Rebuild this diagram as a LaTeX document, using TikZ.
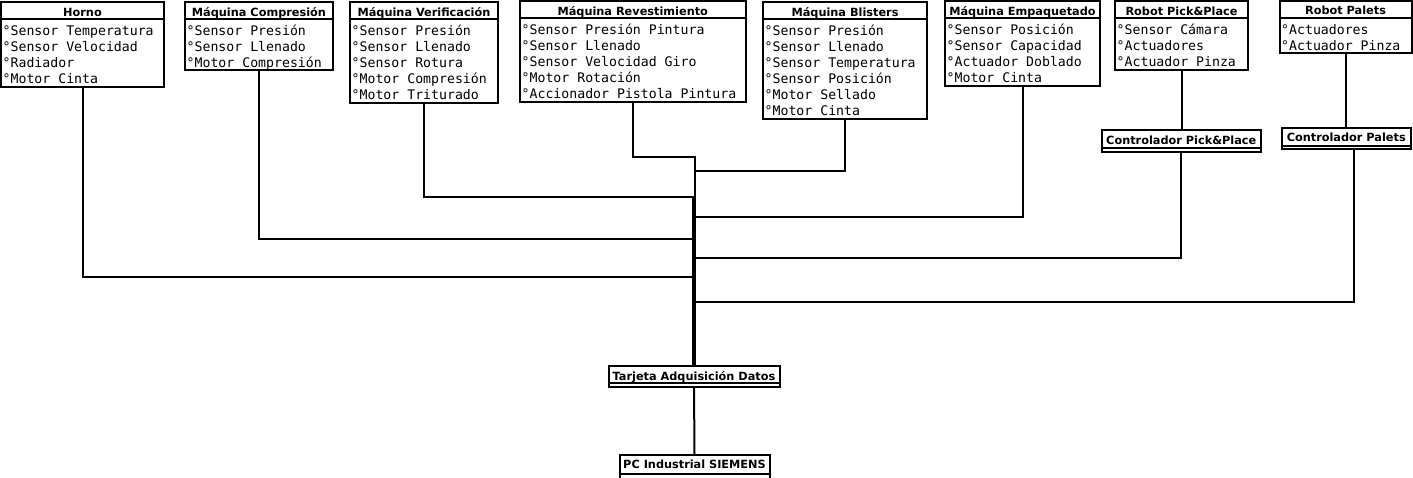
\documentclass[tikz,border=0pt]{standalone}
\usepackage{fontspec}
\newfontfamily\ttlfont{DejaVu Sans}
\newfontfamily\itmfont{DejaVu Sans Mono}
\tikzset{
  boxshape/.style={draw, line width=2pt, rectangle, inner sep=0pt, outer sep=0pt},
  boxline/.style={line width=2pt},
  conn/.style={line width=2pt},
  titletext/.style={font=\ttlfont\bfseries\fontsize{11.3}{13}\selectfont, inner sep=0pt, anchor=base},
  itemtext/.style={font=\itmfont\fontsize{13.2}{16}\selectfont, inner sep=0pt, anchor=base west},
}
% name, x1, y1, x2, y2, separator y, title, items
\newcommand\umlbox[8]{%
  \pgfmathsetmacro\bw{#4-#2}%
  \pgfmathsetmacro\bh{#5-#3}%
  \node[boxshape, minimum width=\bw pt, minimum height=\bh pt, anchor=north west] (#1) at (#2,#3) {};
  \draw[boxline] (#1.west |- 0,#6) -- (#1.east |- 0,#6);
  \node[titletext] (#1-t) at ({(#2+#4)/2},#6-3) {#7};
  \foreach \itm [count=\k] in {#8} {\node[itemtext] (#1-\k) at (#2+1.5,#6+16.5+16*\k-16) {°\itm};}
}
% name, x1, y1, x2, y2, inner line y, baseline y, title
\newcommand\ctrlbox[8]{%
  \pgfmathsetmacro\bw{#4-#2}%
  \pgfmathsetmacro\bh{#5-#3}%
  \node[boxshape, minimum width=\bw pt, minimum height=\bh pt, anchor=north west] (#1) at (#2,#3) {};
  \draw[boxline] (#1.west |- 0,#6) -- (#1.east |- 0,#6);
  \node[titletext] (#1-t) at ({(#2+#4)/2},#7) {#8};
}
\begin{document}
\begin{tikzpicture}[x=1pt, y=-1pt]
\useasboundingbox (0,0) rectangle (1413,477);
\clip (0,0) rectangle (1413,477);

\umlbox{horno}{1}{2}{164}{87}{19}{Horno}{Sensor Temperatura,Sensor Velocidad,Radiador,Motor Cinta}
\umlbox{compresion}{185}{2}{333}{70}{19}{Máquina Compresión}{Sensor Presión,Sensor Llenado,Motor Compresión}
\umlbox{verificacion}{350}{2}{498}{103}{19}{Máquina Verificación}{Sensor Presión,Sensor Llenado,Sensor Rotura,Motor Compresión,Motor Triturado}
\umlbox{revest}{520}{1}{745.5}{102}{18}{Máquina Revestimiento}{Sensor Presión Pintura,Sensor Llenado,Sensor Velocidad Giro,Motor Rotación,Accionador Pistola Pintura}
\umlbox{blisters}{763}{2}{927}{119}{19}{Máquina Blisters}{Sensor Presión,Sensor Llenado,Sensor Temperatura,Sensor Posición,Motor Sellado,Motor Cinta}
\umlbox{empaq}{945}{1}{1100}{86}{18}{Máquina Empaquetado}{Sensor Posición,Sensor Capacidad,Actuador Doblado,Motor Cinta}
\umlbox{rpp}{1115}{1}{1248}{69.5}{18}{Robot Pick\&Place}{Sensor Cámara,Actuadores,Actuador Pinza}
\umlbox{rpal}{1279.5}{1}{1411.5}{53}{17.5}{Robot Palets}{Actuadores,Actuador Pinza}

\ctrlbox{cpp}{1102}{130}{1260.5}{151.5}{148}{144}{Controlador Pick\&Place}
\ctrlbox{cpal}{1281.5}{127.5}{1411}{149}{145.5}{141}{Controlador Palets}
\ctrlbox{tarjeta}{608.5}{365.5}{779.5}{386.5}{383}{380}{Tarjeta Adquisición Datos}
\ctrlbox{pc}{619.5}{455}{769.5}{481}{473.5}{468.5}{PC Industrial SIEMENS}

% connectors to the acquisition card
\draw[conn] (horno.south) -- (horno.south |- 0,277) -| ([xshift=-1pt]tarjeta.north);
\draw[conn] (compresion.south) -- (compresion.south |- 0,239) -| ([xshift=-1pt]tarjeta.north);
\draw[conn] (verificacion.south) -- (verificacion.south |- 0,197) -| ([xshift=-1pt]tarjeta.north);
\draw[conn] (revest.south) -- (revest.south |- 0,157) -| ([xshift=0.5pt]tarjeta.north);
\draw[conn] (blisters.south) -- (blisters.south |- 0,170.5) -| ([xshift=1pt]tarjeta.north);
\draw[conn] (empaq.south) -- (empaq.south |- 0,217) -| ([xshift=1pt]tarjeta.north);
\draw[conn] (cpp.south) -- (cpp.south |- 0,258) -| ([xshift=1pt]tarjeta.north);
\draw[conn] ([xshift=8pt]cpal.south) -- ([xshift=8pt]cpal.south |- 0,302) -| ([xshift=1pt]tarjeta.north);

% robots to their controllers
\draw[conn] (rpp.south) -- (rpp.south |- cpp.north);
\draw[conn] (rpal.south) -- (rpal.south |- cpal.north);

% card to PC
\draw[conn] (tarjeta.south) -- (pc.north);
\end{tikzpicture}
\end{document}
